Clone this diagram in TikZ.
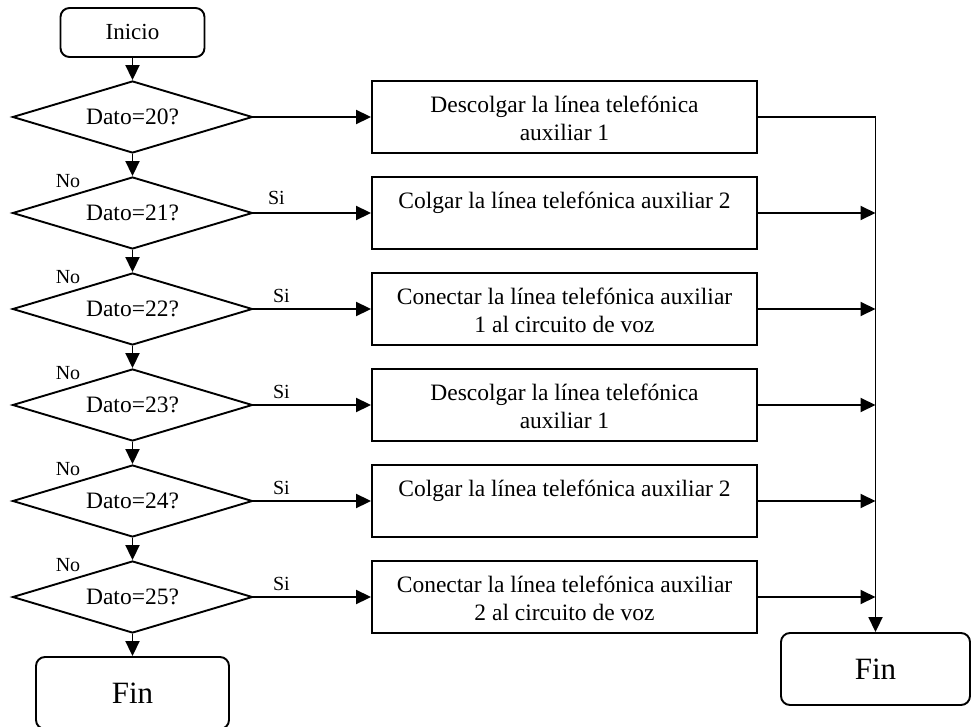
\documentclass[tikz,border=0pt]{standalone}
\usepackage{fontspec}
\setmainfont{Liberation Serif}
\usetikzlibrary{shapes.geometric,arrows.meta}
\begin{document}
\begin{tikzpicture}[x=1pt,y=-1pt,
  line width=1.9pt,
  term/.style={draw,rounded corners=9pt,inner sep=0pt},
  decision/.style={draw,diamond,shape aspect=3.333,minimum width=240pt,minimum height=72pt,
    inner sep=0pt,font=\fontsize{23.5}{27.5}\selectfont},
  action/.style={draw,rectangle,minimum width=385pt,minimum height=72pt,inner sep=0pt},
  actiontext/.style={anchor=north,align=center,inner sep=0pt,
    font=\fontsize{23.5}{27.5}\selectfont},
  lbl/.style={inner sep=0pt,font=\fontsize{20}{24}\selectfont},
  flow/.style={-{Triangle[length=15pt,width=14pt]}},
]
\useasboundingbox (0,0) rectangle (971,727);

% start
\node[term,minimum width=144pt,minimum height=49pt,font=\fontsize{23}{27}\selectfont]
  (inicio) at (132.5,32.5) {Inicio};

% decision column
\node[decision] (d20) at (132.5,117) {Dato=20?};
\node[decision] (d21) at (132.5,213) {Dato=21?};
\node[decision] (d22) at (132.5,309) {Dato=22?};
\node[decision] (d23) at (132.5,405) {Dato=23?};
\node[decision] (d24) at (132.5,501) {Dato=24?};
\node[decision] (d25) at (132.5,597) {Dato=25?};

% action column
\node[action] (b1) at (564.5,117) {};
\node[action] (b2) at (564.5,213) {};
\node[action] (b3) at (564.5,309) {};
\node[action] (b4) at (564.5,405) {};
\node[action] (b5) at (564.5,501) {};
\node[action] (b6) at (564.5,597) {};

\node[actiontext] (t1) at ([yshift=-15pt]b1.north) {Descolgar la línea telefónica\\auxiliar 1};
\node[actiontext] (t2) at ([yshift=-15pt]b2.north) {Colgar la línea telefónica auxiliar 2};
\node[actiontext] (t3) at ([yshift=-15pt]b3.north) {Conectar la línea telefónica auxiliar\\1 al circuito de voz};
\node[actiontext] (t4) at ([yshift=-15pt]b4.north) {Descolgar la línea telefónica\\auxiliar 1};
\node[actiontext] (t5) at ([yshift=-15pt]b5.north) {Colgar la línea telefónica auxiliar 2};
\node[actiontext] (t6) at ([yshift=-15pt]b6.north) {Conectar la línea telefónica auxiliar\\2 al circuito de voz};

% end terminals
\node[term,minimum width=193pt,minimum height=72pt,font=\fontsize{31}{36}\selectfont]
  (finL) at (132.5,693) {Fin};
\node[term,minimum width=189pt,minimum height=72pt,font=\fontsize{31}{36}\selectfont]
  (finR) at (875.5,669) {Fin};

% main chain
\draw[flow] (inicio.south) -- (d20.north);
\draw[flow] (d20.south) -- (d21.north);
\draw[flow] (d21.south) -- (d22.north);
\draw[flow] (d22.south) -- (d23.north);
\draw[flow] (d23.south) -- (d24.north);
\draw[flow] (d24.south) -- (d25.north);
\draw[flow] (d25.south) -- (finL.north);

% branches to actions
\draw[flow] (d20.east) -- (b1.west);
\draw[flow] (d21.east) -- (b2.west);
\draw[flow] (d22.east) -- (b3.west);
\draw[flow] (d23.east) -- (b4.west);
\draw[flow] (d24.east) -- (b5.west);
\draw[flow] (d25.east) -- (b6.west);

% collector line to the right terminal
\draw[flow] (b1.east) -| (finR.north);
\coordinate (j2) at (b2.east -| finR.north);
\coordinate (j3) at (b3.east -| finR.north);
\coordinate (j4) at (b4.east -| finR.north);
\coordinate (j5) at (b5.east -| finR.north);
\coordinate (j6) at (b6.east -| finR.north);
\draw[flow] (b2.east) -- (j2);
\draw[flow] (b3.east) -- (j3);
\draw[flow] (b4.east) -- (j4);
\draw[flow] (b5.east) -- (j5);
\draw[flow] (b6.east) -- (j6);

% branch labels
\node[lbl] (no21) at ([xshift=-64.5pt,yshift=-5pt]d21.north) {No};
\node[lbl] (no22) at ([xshift=-64.5pt,yshift=-5pt]d22.north) {No};
\node[lbl] (no23) at ([xshift=-64.5pt,yshift=-5pt]d23.north) {No};
\node[lbl] (no24) at ([xshift=-64.5pt,yshift=-5pt]d24.north) {No};
\node[lbl] (no25) at ([xshift=-64.5pt,yshift=-5pt]d25.north) {No};
\node[lbl] (si21) at ([xshift=23pt,yshift=15pt]d21.east) {Si};
\node[lbl] (si22) at ([xshift=28pt,yshift=13pt]d22.east) {Si};
\node[lbl] (si23) at ([xshift=28pt,yshift=13pt]d23.east) {Si};
\node[lbl] (si24) at ([xshift=28pt,yshift=13pt]d24.east) {Si};
\node[lbl] (si25) at ([xshift=28pt,yshift=13pt]d25.east) {Si};
\end{tikzpicture}
\end{document}
